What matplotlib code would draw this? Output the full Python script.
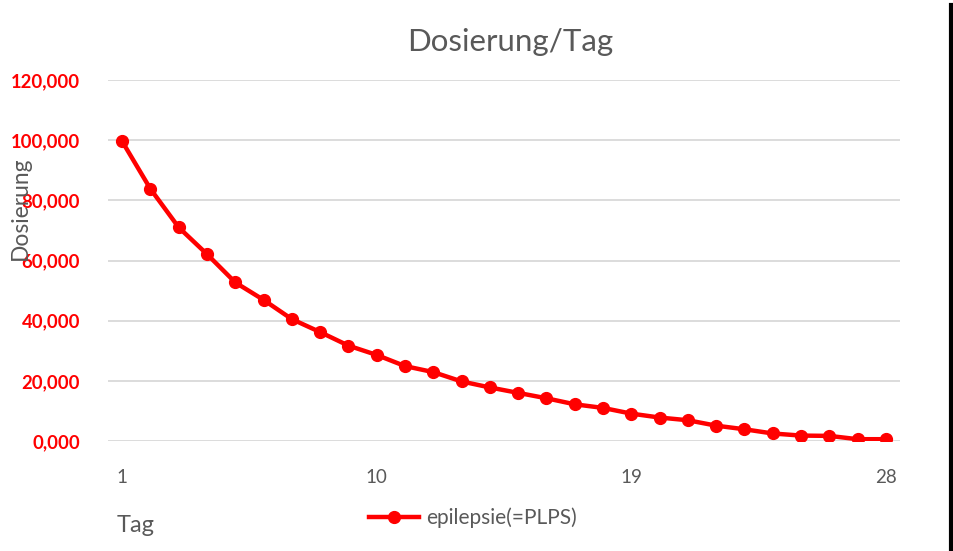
import matplotlib
matplotlib.use("Agg")
import matplotlib.pyplot as plt
from matplotlib.lines import Line2D

days = list(range(1, 29))
dose = [99.6, 83.8, 71.0, 62.1, 52.7, 46.9, 40.5, 36.2, 31.7, 28.6,
        24.9, 22.9, 19.8, 17.8, 16.0, 14.2, 12.2, 11.0, 9.1, 7.8,
        6.9, 5.1, 3.9, 2.5, 1.8, 1.7, 0.6, 0.6]
dose = [v * 1000 for v in dose]
yticks = [0, 20000, 40000, 60000, 80000, 100000, 120000]
ytick_labels = ["0,000", "20,000", "40,000", "60,000", "80,000", "100,000", "120,000"]
xticks = [1, 10, 19, 28]
series_name = "epilepsie(=PLPS)"

plt.rcParams['font.family'] = ['Lato', 'DejaVu Sans']
GRAY = '#595959'
RED = '#ff0000'

fig = plt.figure(figsize=(9.54, 5.51), dpi=100)
ax = fig.add_axes([108/954, 1-441/551, (900-108)/954, (441-80)/551])

ax.plot(days, dose, color=RED, lw=3.2, marker='o', ms=8.5, solid_capstyle='round')
ax.set_xlim(0.5, 28.5)
ax.set_ylim(0, 120000)
ax.set_yticks(yticks)
ax.set_yticklabels(ytick_labels, color=RED, fontweight='bold', fontsize=13.3)
ax.set_xticks(xticks)
ax.set_xticklabels([str(x) for x in xticks], color=GRAY, fontsize=13.5)
ax.tick_params(axis='y', length=0, pad=20)
ax.tick_params(axis='x', length=0, pad=20)
ax.grid(axis='y', color='#d9d9d9', lw=1.3)
ax.set_axisbelow(True)
for s in ax.spines.values():
    s.set_visible(False)

fig.text(510/954, 1-42/551, "Dosierung/Tag", ha='center', va='center', color=GRAY, fontsize=22.5)
fig.text(20/954, 1-208/551, "Dosierung", ha='center', va='center', rotation=90, color=GRAY, fontsize=16.4)
fig.text(117/954, 1-526/551, "Tag", ha='left', va='center', color=GRAY, fontsize=17)

handle = Line2D([], [], color=RED, lw=3.2, marker='o', ms=8.5)
fig.legend([handle], [series_name], loc='center', bbox_to_anchor=(473/954, 1-518/551),
           frameon=False, fontsize=15, labelcolor=GRAY, handlelength=2.4, handletextpad=0.3)

fig.add_artist(Line2D([951/954, 951/954], [0, 1-5/551], color='black', lw=3, transform=fig.transFigure))

fig.savefig("out.png", dpi=100)
